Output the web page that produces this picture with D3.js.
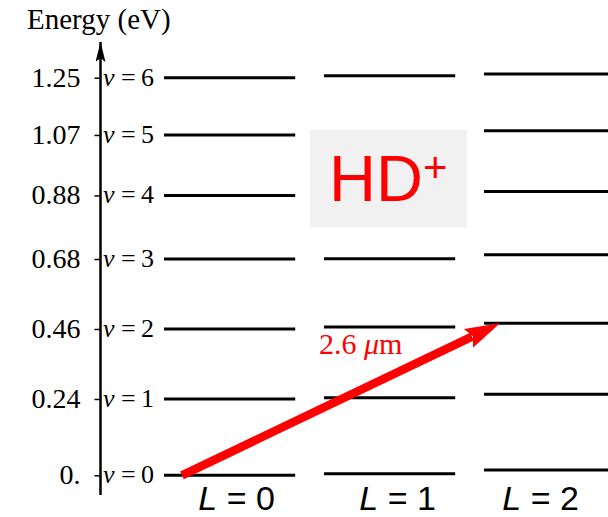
<!DOCTYPE html>
<html><head><meta charset="utf-8">
<script src="https://cdn.jsdelivr.net/npm/d3@7"></script>
<style>html,body{margin:0;padding:0;background:#fff;overflow:hidden}</style>
</head><body>
<svg id="c" width="608" height="517"></svg>
<script>
// ---- data ----
const rotational = [0, 1, 2];                        // L quantum numbers
const vibrational = [0, 1, 2, 3, 4, 5, 6];           // v quantum numbers
const energyL0 = [0, 0.24, 0.46, 0.68, 0.88, 1.07, 1.25];
const energyL1 = [0.005, 0.244, 0.466, 0.681, 0.885, 1.075, 1.256];
const energyL2 = [0.017, 0.255, 0.478, 0.693, 0.892, 1.083, 1.262];
const tickValues = [0, 0.24, 0.46, 0.68, 0.88, 1.07, 1.25];
const tickLabels = ["0.", "0.24", "0.46", "0.68", "0.88", "1.07", "1.25"];
const transition = {from: {L: 0, v: 0}, to: {L: 2, v: 2}, label: "2.6 "};

const energies = [energyL0, energyL1, energyL2];

// ---- layout ----
const svg = d3.select("#c");
const SERIF = "'Liberation Serif','Times New Roman',serif";
const SANS = "'Liberation Sans',Arial,sans-serif";
const y = d3.scaleLinear().domain([0, 1.25]).range([475.3, 77.7]);
const x = d3.scaleBand().domain(rotational).range([164, 615.2]).paddingInner(0.18).paddingOuter(0);
const axisX = 100.5;

// y axis line with arrow
svg.append("defs").append("marker")
  .attr("id", "ah").attr("viewBox", "0 0 20 10").attr("refX", 20).attr("refY", 5)
  .attr("markerWidth", 20).attr("markerHeight", 10).attr("markerUnits", "userSpaceOnUse")
  .attr("orient", "auto")
  .append("path").attr("d", "M0,0 L20,5 L0,10 L4,5 Z").attr("fill", "#000");
svg.append("line").attr("x1", axisX).attr("x2", axisX).attr("y1", 495).attr("y2", 42)
  .attr("stroke", "#000").attr("stroke-width", 2.5).attr("marker-end", "url(#ah)");

// ticks via d3 axis
const axis = d3.axisLeft(y).tickValues(tickValues).tickSize(6).tickPadding(14)
  .tickFormat((d, i) => tickLabels[i]);
const ag = svg.append("g").attr("transform", `translate(${axisX},0)`).call(axis);
ag.select(".domain").remove();
ag.selectAll(".tick line").attr("stroke", "#000").attr("stroke-width", 1.5);
ag.selectAll(".tick text").attr("font-family", SERIF).attr("font-size", 28)
  .attr("fill", "#000").attr("dy", "0.3em");

// axis title
svg.append("text").attr("x", 27).attr("y", 29).attr("font-family", SERIF)
  .attr("font-size", 29).text("Energy (eV)");

// v labels
const vl = svg.append("g").selectAll("text").data(vibrational).join("text")
  .attr("y", v => y(energyL0[v]) + 8).attr("font-family", SERIF).attr("font-size", 26);
vl.append("tspan").attr("x", 103).attr("font-style", "italic").text("v");
vl.append("tspan").attr("x", 121).text("=");
vl.append("tspan").attr("x", 141).text(v => v);

// level lines
const lines = [];
rotational.forEach(L => vibrational.forEach(v => lines.push({L, v, E: energies[L][v]})));
svg.append("g").selectAll("line").data(lines).join("line")
  .attr("x1", d => x(d.L)).attr("x2", d => x(d.L) + x.bandwidth())
  .attr("y1", d => y(d.E)).attr("y2", d => y(d.E))
  .attr("stroke", "#000").attr("stroke-width", 3);

// HD+ box
const bx = x(1) - 14, bw = 157;
svg.append("rect").attr("x", bx).attr("y", y(1.087) ).attr("width", bw)
  .attr("height", y(0.78) - y(1.087)).attr("fill", "#f1f1f1");
const hd = svg.append("text").attr("x", x(1) + 5).attr("y", 201)
  .attr("font-family", SANS).attr("font-size", 65).attr("fill", "#ff0000");
hd.append("tspan").text("HD");
hd.append("tspan").attr("font-size", 42).attr("dy", -19).attr("dx", 0).text("+");

// L labels
const labelDx = [7, 8, -9];
const lt = svg.append("g").selectAll("text").data(rotational).join("text")
  .attr("x", L => x(L) + x.bandwidth() / 2 + labelDx[L]).attr("y", 509.5)
  .attr("text-anchor", "middle").attr("font-family", SANS).attr("font-size", 34);
lt.append("tspan").attr("font-style", "italic").text("L");
lt.append("tspan").text(L => " = " + L);

// transition arrow
const x0 = x(transition.from.L) + 18, y0 = y(energies[transition.from.L][transition.from.v]);
const x1 = x(transition.to.L) + 16, y1 = y(energies[transition.to.L][transition.to.v]);
const ang = Math.atan2(y1 - y0, x1 - x0);
const ux = Math.cos(ang), uy = Math.sin(ang), nx = -uy, ny = ux;
const HL = 35, HW = 10.5, notch = 30;
svg.append("line").attr("x1", x0).attr("y1", y0)
  .attr("x2", x1 - ux * (notch + 1)).attr("y2", y1 - uy * (notch + 1))
  .attr("stroke", "#ff0000").attr("stroke-width", 8.5);
const pts = [
  [x1, y1],
  [x1 - ux * HL + nx * HW, y1 - uy * HL + ny * HW],
  [x1 - ux * notch, y1 - uy * notch],
  [x1 - ux * HL - nx * HW, y1 - uy * HL - ny * HW]
];
svg.append("path").attr("d", d3.line()(pts) + "Z").attr("fill", "#ff0000");

// transition label
const tl = svg.append("text").attr("x", 319).attr("y", 354).attr("font-family", SERIF)
  .attr("font-size", 30).attr("fill", "#ff0000");
tl.append("tspan").text(transition.label);
tl.append("tspan").attr("font-style", "italic").text("\u03bc");
tl.append("tspan").text("m");
</script>
</body></html>
